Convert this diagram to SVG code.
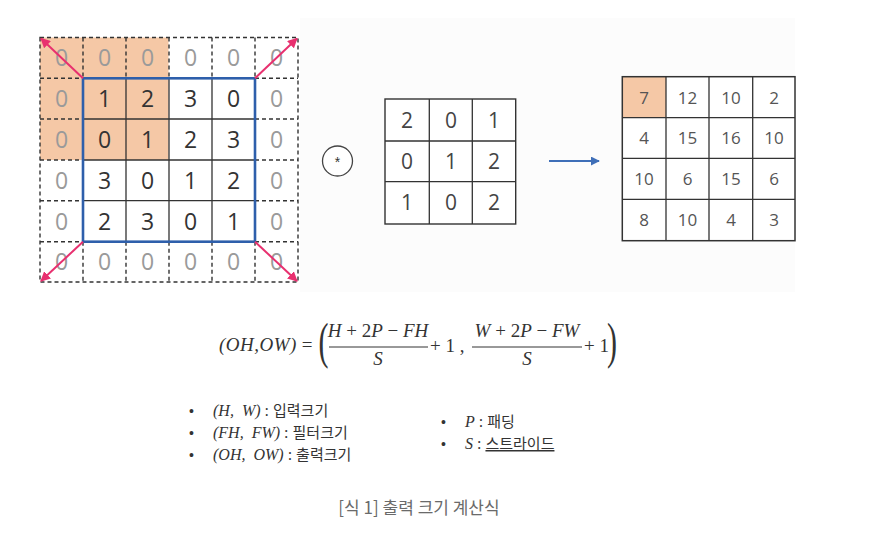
<svg xmlns="http://www.w3.org/2000/svg" width="896" height="554" viewBox="0 0 896 554">
<style>
.pad{font-family:"Open Sans","Noto Sans",sans-serif;font-size:23px;fill:#9a9a9a;text-anchor:middle}
.in{font-family:"Open Sans","Noto Sans",sans-serif;font-size:23px;fill:#333;text-anchor:middle}
.flt{font-family:"Open Sans","Noto Sans",sans-serif;font-size:21px;fill:#444;text-anchor:middle}
.out{font-family:"Open Sans","Noto Sans",sans-serif;font-size:17px;fill:#555;text-anchor:middle}
.dash{stroke:#333;stroke-width:1.4;stroke-dasharray:4 3;fill:none}
.solid{stroke:#333;stroke-width:1.3;fill:none}
.pink{stroke:#e8306f;stroke-width:2;fill:none;marker-end:url(#ph)}
.m{font-family:"Liberation Serif","Times New Roman",serif;font-size:19px;fill:#333}
.lg{font-family:"Liberation Serif","Times New Roman",serif;font-size:16px;fill:#333}
.paren{font-family:"Liberation Serif","Times New Roman",serif;font-size:50px;fill:#333}
.mi{font-style:italic}
.ko{font-family:"Noto Sans CJK KR","Noto Sans",sans-serif;font-size:15px;fill:#333;font-style:normal}
.bul{font-family:"Liberation Sans",sans-serif;font-size:14px;fill:#333}
</style>
<defs>
<marker id="ph" viewBox="0 0 10 10" refX="9" refY="5" markerWidth="5" markerHeight="5" orient="auto">
<path d="M0,0 L10,5 L0,10 z" fill="#e8306f"/>
</marker>
<marker id="bh" viewBox="0 0 10 10" refX="9" refY="5" markerWidth="4.5" markerHeight="4.5" orient="auto">
<path d="M0,0 L10,5 L0,10 z" fill="#3f6fb8"/>
</marker>
</defs>
<rect width="896" height="554" fill="#fff"/>
<rect x="300" y="18" width="495" height="274" fill="#fcfcfc"/>

<g id="input-grid">
<rect x="40" y="37.5" width="128.5" height="122.5" fill="#f5c8a6"/>
<rect class="dash" x="40" y="37.5" width="258" height="244.5"/>
<path class="dash" d="M83,37.5V78.3 M126,37.5V78.3 M169,37.5V78.3 M212,37.5V78.3 M255,37.5V78.3
M83,241.7V282 M126,241.7V282 M169,241.7V282 M212,241.7V282 M255,241.7V282
M40,78.3H83 M40,119H83 M40,160H83 M40,200.7H83 M40,241.7H83
M255,78.3H298 M255,119H298 M255,160H298 M255,200.7H298 M255,241.7H298"/>
<path class="solid" d="M126,78.3V241.7 M169,78.3V241.7 M212,78.3V241.7 M83,119H255 M83,160H255 M83,200.7H255"/>
<rect x="83" y="78.3" width="172" height="163.4" fill="none" stroke="#2e5fab" stroke-width="2.6"/>
<g class="pad">
<text x="61.5" y="66">0</text><text x="104.5" y="66">0</text><text x="147.5" y="66">0</text><text x="190.5" y="66">0</text><text x="233.5" y="66">0</text><text x="276.5" y="66">0</text>
<text x="61.5" y="107">0</text><text x="276.5" y="107">0</text>
<text x="61.5" y="148">0</text><text x="276.5" y="148">0</text>
<text x="61.5" y="189">0</text><text x="276.5" y="189">0</text>
<text x="61.5" y="229.5">0</text><text x="276.5" y="229.5">0</text>
<text x="61.5" y="270">0</text><text x="104.5" y="270">0</text><text x="147.5" y="270">0</text><text x="190.5" y="270">0</text><text x="233.5" y="270">0</text><text x="276.5" y="270">0</text>
</g>
<g class="in">
<text x="104.5" y="107">1</text><text x="147.5" y="107">2</text><text x="190.5" y="107">3</text><text x="233.5" y="107">0</text>
<text x="104.5" y="148">0</text><text x="147.5" y="148">1</text><text x="190.5" y="148">2</text><text x="233.5" y="148">3</text>
<text x="104.5" y="189">3</text><text x="147.5" y="189">0</text><text x="190.5" y="189">1</text><text x="233.5" y="189">2</text>
<text x="104.5" y="229.5">2</text><text x="147.5" y="229.5">3</text><text x="190.5" y="229.5">0</text><text x="233.5" y="229.5">1</text>
</g>
</g>

<g id="connectors">
<line class="pink" x1="83" y1="78.3" x2="41" y2="38.5"/>
<line class="pink" x1="255" y1="78.3" x2="297" y2="38.5"/>
<line class="pink" x1="83" y1="241.7" x2="41" y2="281"/>
<line class="pink" x1="255" y1="241.7" x2="297" y2="281"/>
<line x1="549" y1="161" x2="599" y2="161" stroke="#3f6fb8" stroke-width="2" marker-end="url(#bh)"/>
</g>

<g id="conv-op">
<circle cx="337.5" cy="161" r="15" fill="#fff" stroke="#444" stroke-width="1.3"/>
<text x="337.5" y="167" font-family="Liberation Sans,sans-serif" font-size="14" fill="#333" text-anchor="middle">*</text>
</g>

<g id="filter">
<rect x="385" y="99" width="130.7" height="125" fill="#fff" stroke="#333" stroke-width="1.4"/>
<path class="solid" d="M429.3,99V224 M472.3,99V224 M385,141H515.7 M385,181.7H515.7"/>
<g class="flt">
<text x="407" y="127.5">2</text><text x="451" y="127.5">0</text><text x="494" y="127.5">1</text>
<text x="407" y="169">0</text><text x="451" y="169">1</text><text x="494" y="169">2</text>
<text x="407" y="210">1</text><text x="451" y="210">0</text><text x="494" y="210">2</text>
</g>
</g>

<g id="output">
<rect x="622.3" y="76.7" width="172.7" height="164" fill="#fff"/>
<rect x="622.3" y="76.7" width="43.7" height="41" fill="#f5c8a6"/>
<rect x="622.3" y="76.7" width="172.7" height="164" fill="none" stroke="#333" stroke-width="1.5"/>
<path class="solid" d="M666,76.7V240.7 M709,76.7V240.7 M752.7,76.7V240.7 M622.3,117.7H795 M622.3,158.3H795 M622.3,199.3H795"/>
<g class="out">
<text x="644" y="103.5">7</text><text x="687.5" y="103.5">12</text><text x="731" y="103.5">10</text><text x="774" y="103.5">2</text>
<text x="644" y="144">4</text><text x="687.5" y="144">15</text><text x="731" y="144">16</text><text x="774" y="144">10</text>
<text x="644" y="185">10</text><text x="687.5" y="185">6</text><text x="731" y="185">15</text><text x="774" y="185">6</text>
<text x="644" y="226">8</text><text x="687.5" y="226">10</text><text x="731" y="226">4</text><text x="774" y="226">3</text>
</g>
</g>

<g id="formula">
<text class="m" x="219" y="351"><tspan class="mi" letter-spacing="0.5">(OH,OW)</tspan> =</text>
<text class="paren" x="318.5" y="358" transform="translate(318.5 358) scale(0.6 1) translate(-318.5 -358)">(</text>
<text class="m" x="378" y="337" text-anchor="middle"><tspan class="mi">H</tspan> + 2<tspan class="mi">P</tspan> − <tspan class="mi">FH</tspan></text>
<line x1="329" y1="347" x2="428" y2="347" stroke="#333" stroke-width="1"/>
<text class="m mi" x="378" y="365" text-anchor="middle">S</text>
<text class="m" x="430" y="352">+ 1  ,</text>
<text class="m" x="527" y="337" text-anchor="middle"><tspan class="mi">W</tspan> + 2<tspan class="mi">P</tspan> − <tspan class="mi">FW</tspan></text>
<line x1="472" y1="347" x2="582" y2="347" stroke="#333" stroke-width="1"/>
<text class="m mi" x="527" y="365" text-anchor="middle">S</text>
<text class="m" x="584" y="352">+ 1</text>
<text class="paren" x="607" y="358" transform="translate(607 358) scale(0.6 1) translate(-607 -358)">)</text>
</g>

<g id="legend">
<text class="bul" x="189" y="416">•</text>
<text class="lg" x="213" y="416"><tspan class="mi" word-spacing="4">(H, W)</tspan> : <tspan class="ko">입력크기</tspan></text>
<text class="bul" x="189" y="438">•</text>
<text class="lg" x="213" y="438"><tspan class="mi" word-spacing="4">(FH, FW)</tspan> : <tspan class="ko">필터크기</tspan></text>
<text class="bul" x="189" y="460">•</text>
<text class="lg" x="213" y="460"><tspan class="mi" word-spacing="4">(OH, OW)</tspan> : <tspan class="ko">출력크기</tspan></text>
<text class="bul" x="441" y="427">•</text>
<text class="lg" x="465" y="427"><tspan class="mi">P</tspan> : <tspan class="ko">패딩</tspan></text>
<text class="bul" x="441" y="449">•</text>
<text class="lg" x="465" y="449"><tspan class="mi">S</tspan> : <tspan class="ko" text-decoration="underline">스트라이드</tspan></text>
</g>

<g id="caption">
<text x="419" y="514" font-family="Noto Sans CJK KR,Noto Sans,sans-serif" font-size="17" fill="#6a6a6a" text-anchor="middle">[식 1] 출력 크기 계산식</text>
</g>
</svg>
